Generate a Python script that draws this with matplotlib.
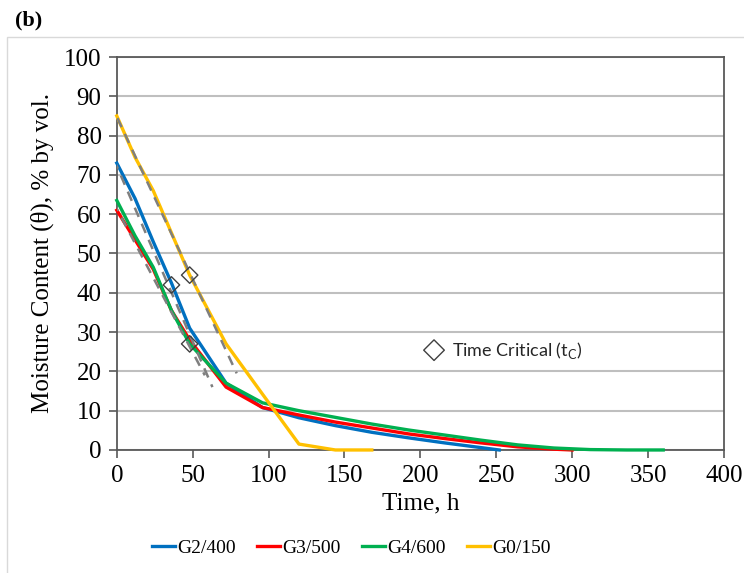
import matplotlib
matplotlib.use('Agg')
import matplotlib.pyplot as plt
from matplotlib.patches import Rectangle
from matplotlib.lines import Line2D

# data
t_g2 = [0, 12, 24, 36, 48, 72, 96, 120, 144, 168, 192, 216, 240, 252]
m_g2 = [73, 64, 53, 42.5, 31, 17, 10.8, 8.2, 6.2, 4.5, 3.1, 1.8, 0.6, 0]

t_g3 = [0, 12, 24, 36, 48, 72, 96, 120, 144, 168, 192, 216, 240, 264, 288, 300]
m_g3 = [61, 53.5, 46, 35.5, 28, 16, 10.8, 8.9, 7.1, 5.6, 4.1, 2.9, 1.8, 0.8, 0.2, 0]

t_g4 = [0, 12, 24, 36, 48, 72, 96, 120, 144, 168, 192, 216, 240, 264, 288, 312, 336, 360]
m_g4 = [63.5, 54.5, 46.5, 35.5, 27, 17, 12, 10, 8.3, 6.6, 5.1, 3.8, 2.5, 1.3, 0.5, 0.1, 0, 0]

t_g0 = [0, 12, 24, 48, 72, 96, 120, 144, 168]
m_g0 = [85, 74.5, 66, 44.5, 27, 14.2, 1.5, 0, 0]

labels = ['G2/400', 'G3/500', 'G4/600', 'G0/150']
colors = ['#0070C0', '#FF0000', '#00B050', '#FFC000']

# tangent lines (start/end points) and critical time points
tan_x = [[-4.5, 79], [-6.5, 63], [-7.7, 58]]
tan_y = [[88.5, 19.5], [78, 16], [67, 19]]
tc_x = [36, 48, 48]
tc_y = [42, 44.5, 27]

fig = plt.figure(figsize=(7.44, 5.73), dpi=100)
ax = fig.add_axes([0.157, 0.2147, 0.816, 0.6858])

# outer light frame
fig.patches.append(Rectangle((7 / 744, -0.01), 1.0, 1 - 37 / 573 + 0.01,
                             transform=fig.transFigure, fill=False,
                             edgecolor='#d9d9d9', linewidth=1.0))

for x, y in zip(tan_x, tan_y):
    ax.plot(x, y, color='#7f7f7f', linestyle=(0, (4, 3)), linewidth=1.8, zorder=4)

series = [(t_g2, m_g2), (t_g3, m_g3), (t_g4, m_g4), (t_g0, m_g0)]
for (t, m), lab, c in zip(series, labels, colors):
    ax.plot(t, m, color=c, linewidth=2.4, label=lab, zorder=3, clip_on=False)

ax.scatter(tc_x, tc_y, marker='D', s=70, facecolors='none', edgecolors='#404040',
           linewidths=1.0, zorder=5)

ax.scatter([209], [25.4], marker='D', s=110, facecolors='none', edgecolors='#404040',
           linewidths=1.0)
ax.text(221, 25.4, r'Time Critical (t$_\mathregular{C}$)', fontsize=13,
        family='Lato', va='center', ha='left', color='#262626')

ax.set_xlim(0, 400)
ax.set_ylim(0, 100)
ax.set_xticks(range(0, 401, 50))
ax.set_yticks(range(0, 101, 10))
ax.yaxis.grid(True, color='#bfbfbf', linewidth=1.5)
ax.set_axisbelow(True)
for s in ax.spines.values():
    s.set_color('#595959')
    s.set_linewidth(1.3)
ax.tick_params(direction='out', length=6, color='#595959', width=1.2,
               labelsize=18, pad=5)
for lbl in ax.get_xticklabels() + ax.get_yticklabels():
    lbl.set_family('Liberation Serif')

ax.set_xlabel('Time, h', fontsize=18, family='Liberation Serif', labelpad=4)
ax.set_ylabel('Moisture Content (θ), % by vol.', fontsize=18,
              family='Liberation Serif', labelpad=7)

handles = [Line2D([], [], color=c, linewidth=2.4) for c in colors]
fig.legend(handles, labels, loc='center', bbox_to_anchor=(0.472, 0.043), ncol=4,
           frameon=False, handlelength=1.2, handletextpad=0.1, columnspacing=1.1,
           prop={'family': 'Liberation Serif', 'size': 14})

fig.text(0.02, 0.965, '(b)', fontsize=16, fontweight='bold',
         family='Liberation Serif', va='center')

fig.savefig('out.png', dpi=100)
